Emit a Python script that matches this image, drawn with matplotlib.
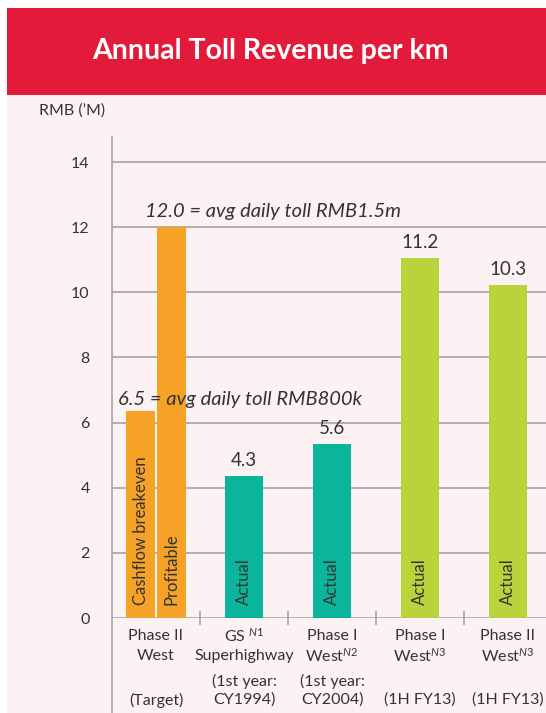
import matplotlib.pyplot as plt
from matplotlib.patches import Rectangle
from matplotlib.lines import Line2D

plt.rcParams['font.family'] = ['Lato', 'DejaVu Sans']
plt.rcParams['mathtext.fontset'] = 'custom'
plt.rcParams['mathtext.rm'] = 'Lato'
plt.rcParams['mathtext.it'] = 'Lato:italic'

### Data
bar_groups = [0, 0, 1, 2, 3, 4]
bar_heights = [6.35, 12.0, 4.35, 5.35, 11.05, 10.22]
bar_inner_text = ['Cashflow breakeven', 'Profitable', 'Actual', 'Actual', 'Actual', 'Actual']
value_labels = ['', '', '4.3', '5.6', '11.2', '10.3']
line1 = ['Phase II', r'GS $^{\mathit{N1}}$', 'Phase I', 'Phase I', 'Phase II']
line2 = ['West', 'Superhighway', r'West$^{\mathit{N2}}$', r'West$^{\mathit{N3}}$', r'West$^{\mathit{N3}}$']
line3 = ['', '(1st year:', '(1st year:', '', '']
line4 = ['(Target)', 'CY1994)', 'CY2004)', '(1H FY13)', '(1H FY13)']
yticks = [0, 2, 4, 6, 8, 10, 12, 14]
note_high = '12.0 = avg daily toll RMB1.5m'
note_low = '6.5 = avg daily toll RMB800k'

### Style
ORANGE = '#f5a226'
TEAL = '#0bb59b'
GREEN = '#b9d33a'
RED = '#e31a3a'
BG = '#fcf2f3'
TXT = '#333333'
GRID = '#aaaaaa'
bar_colors = [ORANGE, ORANGE, TEAL, TEAL, GREEN, GREEN]
bar_offsets = [-0.176, 0.176, 0, 0, 0, 0]
bar_widths = [0.33, 0.33, 0.43, 0.43, 0.43, 0.43]

W, H = 546, 713
fig = plt.figure(figsize=(W / 100, H / 100), dpi=100)
fig.patch.set_facecolor('white')

# page background and header (behind the axes)
fig.patches.append(Rectangle((7 / W, 0), 1, 1 - 95 / H, transform=fig.transFigure,
                             facecolor=BG, edgecolor='none', zorder=-2))
fig.patches.append(Rectangle((7 / W, 1 - 95 / H), 1, 87 / H, transform=fig.transFigure,
                             facecolor=RED, edgecolor='none', zorder=-2))
fig.text(270 / W, 1 - 51 / H, 'Annual Toll Revenue per km', color='white',
         fontsize=20.5, fontweight='bold', ha='center', va='center')
fig.text(39 / W, 1 - 111 / H, "RMB (\u2019M)", color=TXT, fontsize=11.5, ha='left', va='center')

# axes: left spine at x=112px, y=0 at 618px, top at 137px
ax_left, ax_bottom, ax_top = 112, 618, 137
ax = fig.add_axes([ax_left / W, 1 - ax_bottom / H, 1 - ax_left / W, (ax_bottom - ax_top) / H])
ax.set_facecolor('none')
px_per_unit = (ax_bottom - 162) / 14
ax.set_ylim(0, (ax_bottom - ax_top) / px_per_unit)
ax.set_xlim(-0.5, -0.5 + (W - ax_left) / 88)

for s in ax.spines.values():
    s.set_visible(False)
for y in yticks:
    ax.axhline(y, color=GRID, lw=1.3, zorder=1)
ax.set_yticks(yticks)
ax.tick_params(axis='y', length=0, pad=16, labelsize=11.5, labelcolor=TXT)
ax.set_xticks([])

# y axis line running down to the bottom of the figure
fig.lines.append(Line2D([ax_left / W, ax_left / W], [0, 1 - ax_top / H],
                        transform=fig.transFigure, color=GRID, lw=1.3))

# separators between groups, crossing the axis
for b in [0.5, 1.5, 2.5, 3.5]:
    ax.plot([b, b], [-6 / px_per_unit, 6 / px_per_unit], color=GRID, lw=1.3,
            clip_on=False, zorder=2)

xs = [g + o for g, o in zip(bar_groups, bar_offsets)]
ax.bar(xs, bar_heights, width=bar_widths, color=bar_colors, zorder=3)

for x, h, t, v in zip(xs, bar_heights, bar_inner_text, value_labels):
    ax.text(x, 13 / px_per_unit, t, rotation=90, ha='center', va='bottom',
            fontsize=12, color=TXT, zorder=4)
    if v:
        ax.annotate(v, (x, h), xytext=(0, 5), textcoords='offset points',
                    ha='center', va='bottom', fontsize=13.5, color=TXT)

ax.text(-0.12, (ax_bottom - 212) / px_per_unit, note_high, style='italic', fontsize=14.5,
        color=TXT, ha='left', va='center', zorder=5)
ax.text(-0.433, (ax_bottom - 400) / px_per_unit, note_low, style='italic', fontsize=14.5,
        color=TXT, ha='left', va='center', zorder=5)


def ax_frac(y_px):
    return (ax_bottom - y_px) / (ax_bottom - ax_top)


trans = ax.get_xaxis_transform()
for i in range(5):
    for txt, ypx in zip([line1[i], line2[i], line3[i], line4[i]], [636, 656, 681, 700]):
        if txt:
            ax.text(i, ax_frac(ypx), txt, transform=trans, ha='center', va='center',
                    fontsize=11.5, color=TXT, clip_on=False)

fig.savefig('out.png', dpi=100, facecolor=fig.get_facecolor())
